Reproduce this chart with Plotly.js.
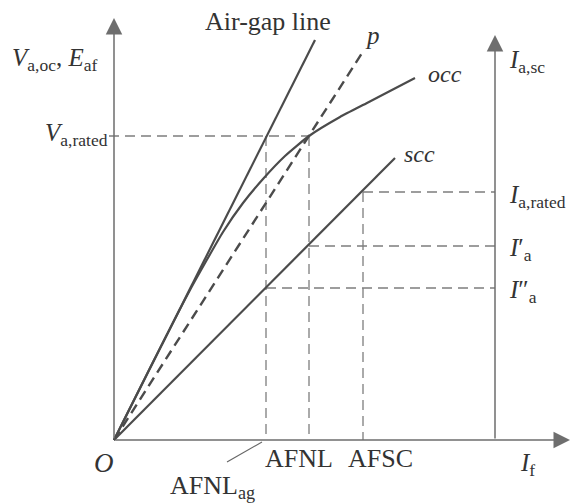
<!DOCTYPE html>
<html>
<head>
<meta charset="utf-8">
<script src="https://cdn.plot.ly/plotly-3.0.1.min.js"></script>
<style>html,body{margin:0;padding:0;background:#fff;}#chart{width:571px;height:504px;}</style>
</head>
<body>
<div id="chart"></div>
<script>
// Field current (x) and voltage / current (y), arbitrary units
const occX = [0, 36, 76, 109, 129, 149, 171, 195, 226, 253, 276, 301];
const occY = [0, 72, 150, 208, 237, 261, 284, 304, 323, 337, 349, 362];
const airgapX = [0, 201];
const airgapY = [0, 400];
const pX = [0, 250];
const pY = [0, 390];
const sccX = [0, 281];
const sccY = [0, 282];

const AFNLag = 152, AFNL = 195, AFSC = 249;
const Vrated = 304, Irated = 248, Ia1 = 194, Ia2 = 152;
const rightAxisX = 381;
const xAxisEnd = 456, leftAxisTop = 422, rightAxisTop = 405;

const curveColor = '#4b4b4b', axisColor = '#6e6e6e', guideColor = '#7d7d7d';
const guideDash = '10px,6px';
const font = 'Liberation Serif, Times New Roman, serif';
const txtColor = '#333333';

function line(x, y, color, width, dash, shape, smooth) {
  return {x: x, y: y, type: 'scatter', mode: 'lines', hoverinfo: 'skip',
          line: {color: color, width: width, dash: dash || 'solid', shape: shape || 'linear', smoothing: smooth || 1}};
}

const traces = [
  // guide lines
  line([-5, AFNL], [Vrated, Vrated], guideColor, 1.3, guideDash),
  line([AFNL, AFNL], [Vrated, 0], guideColor, 1.3, guideDash),
  line([AFNLag, AFNLag], [Vrated, 0], guideColor, 1.3, guideDash),
  line([AFSC, AFSC], [Irated, 0], guideColor, 1.3, guideDash),
  line([AFSC, rightAxisX], [Irated, Irated], guideColor, 1.3, guideDash),
  line([AFNL, rightAxisX], [Ia1, Ia1], guideColor, 1.3, guideDash),
  line([AFNLag, rightAxisX], [Ia2, Ia2], guideColor, 1.3, guideDash),
  // curves
  line(airgapX, airgapY, curveColor, 2.2),
  line(pX, pY, curveColor, 2.4, '10px,6px'),
  line(occX, occY, curveColor, 2.2, 'solid', 'spline', 0.5),
  line(sccX, sccY, curveColor, 2.2),
  // leader for AFNL_ag
  line([113, AFNLag - 4], [-22, -2], '#666', 1.1)
];

function arrow(x0, y0, x1, y1) {
  return {x: x1, y: y1, ax: x0, ay: y0, xref: 'x', yref: 'y', axref: 'x', ayref: 'y',
          text: '', showarrow: true, arrowhead: 2, arrowsize: 2.2, arrowwidth: 1.5, arrowcolor: axisColor};
}
function label(text, x, y, xanchor, size) {
  return {x: x, y: y, xref: 'x', yref: 'y', text: text, showarrow: false,
          xanchor: xanchor || 'center', yanchor: 'middle',
          font: {family: font, size: size || 26, color: txtColor}};
}

const annotations = [
  arrow(0, 0, 0, leftAxisTop),
  arrow(0, 0, xAxisEnd, 0),
  arrow(rightAxisX, 0, rightAxisX, rightAxisTop),
  label('Air-gap line', 154, 419, 'center', 26),
  label('<i>p</i>', 258, 405, 'center', 25),
  label('<i>occ</i>', 312, 366, 'left', 24),
  label('<i>scc</i>', 288, 286, 'left', 24),
  label('<i>V</i><sub>a,oc</sub>, <i>E</i><sub>af</sub>', -104, 381, 'left', 25),
  label('<i>V</i><sub>a,rated</sub>', -4, 306, 'right', 25),
  label('<i>O</i>', -10, -23, 'center', 27),
  label('AFNL', 185, -18, 'center', 26),
  label('AFSC', 266, -18, 'center', 26),
  label('AFNL<sub>ag</sub>', 54, -47, 'left', 26),
  label('<i>I</i><sub>f</sub>', 404, -24, 'left', 25),
  label('<i>I</i><sub>a,sc</sub>', 393, 379, 'left', 25),
  label('<i>I</i><sub>a,rated</sub>', 393, 244, 'left', 25),
  label('<i>I</i>\u2032<sub>a</sub>', 393, 191, 'left', 25),
  label('<i>I</i>\u2033<sub>a</sub>', 393, 149, 'left', 25)
];

const layout = {
  width: 571, height: 504,
  margin: {l: 0, r: 0, t: 0, b: 0},
  paper_bgcolor: '#fff', plot_bgcolor: '#fff',
  showlegend: false,
  xaxis: {range: [-114, 457], visible: false, fixedrange: true},
  yaxis: {range: [-64, 440], visible: false, fixedrange: true},
  annotations: annotations
};

Plotly.newPlot('chart', traces, layout, {staticPlot: true, displayModeBar: false});
</script>
</body>
</html>
